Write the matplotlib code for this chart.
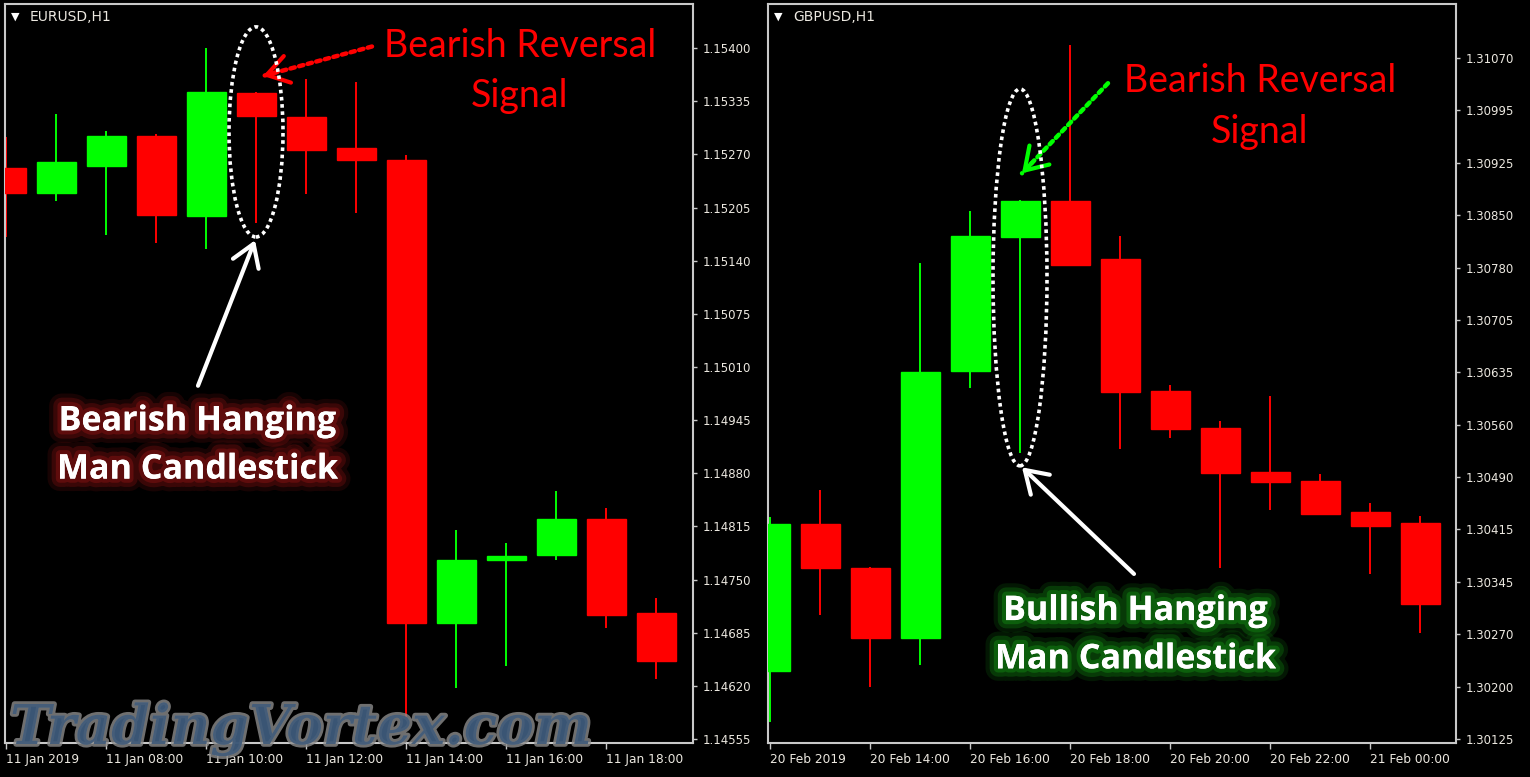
"""EURUSD / GBPUSD H1 candlesticks with hanging man annotations."""

import matplotlib.pyplot as plt
import matplotlib.patheffects as pe
from matplotlib.patches import Ellipse
import numpy as np

# EURUSD H1, 11 Jan 2019 06:00 .. 19:00
eur_open = [1.15253, 1.15223, 1.15256, 1.15292, 1.15195, 1.15345, 1.15316,
            1.15278, 1.15263, 1.14697, 1.14774, 1.14780, 1.14824, 1.14709]
eur_high = [1.15291, 1.15319, 1.15299, 1.15295, 1.15400, 1.15346, 1.15362,
            1.15358, 1.15269, 1.14811, 1.14795, 1.14858, 1.14837, 1.14727]
eur_low = [1.15169, 1.15213, 1.15171, 1.15162, 1.15154, 1.15186, 1.15221,
           1.15198, 1.14581, 1.14617, 1.14644, 1.14774, 1.14691, 1.14628]
eur_close = [1.15223, 1.15261, 1.15292, 1.15196, 1.15346, 1.15317, 1.15276,
             1.15263, 1.14697, 1.14774, 1.14779, 1.14824, 1.14707, 1.14650]
eur_ylim = (1.14550, 1.15454)
eur_yticks = [1.14555, 1.14620, 1.14685, 1.14750, 1.14815, 1.14880, 1.14945,
              1.15010, 1.15075, 1.15140, 1.15205, 1.15270, 1.15335, 1.15400]
eur_xlabels = ['11 Jan 2019', '11 Jan 08:00', '11 Jan 10:00', '11 Jan 12:00',
               '11 Jan 14:00', '11 Jan 16:00', '11 Jan 18:00']

# GBPUSD H1, 20 Feb 2019 12:00 .. 21 Feb 01:00
gbp_open = [1.30219, 1.30423, 1.30362, 1.30265, 1.30636, 1.30822, 1.30872,
            1.30791, 1.30608, 1.30557, 1.30496, 1.30483, 1.30440, 1.30425]
gbp_high = [1.30433, 1.30471, 1.30364, 1.30786, 1.30858, 1.30873, 1.31088,
            1.30823, 1.30616, 1.30566, 1.30601, 1.30493, 1.30452, 1.30434]
gbp_low = [1.30149, 1.30297, 1.30197, 1.30228, 1.30612, 1.30522, 1.30781,
           1.30527, 1.30543, 1.30362, 1.30443, 1.30436, 1.30354, 1.30272]
gbp_close = [1.30423, 1.30362, 1.30265, 1.30634, 1.30823, 1.30872, 1.30783,
             1.30607, 1.30555, 1.30494, 1.30482, 1.30437, 1.30421, 1.30312]
gbp_ylim = (1.301194, 1.311449)
gbp_ytick_labels = ['1.30125', '1.30200', '1.30270', '1.30345', '1.30415',
                    '1.30490', '1.30560', '1.30635', '1.30705', '1.30780',
                    '1.30850', '1.30925', '1.30995', '1.31070']
gbp_xlabels = ['20 Feb 2019', '20 Feb 14:00', '20 Feb 16:00', '20 Feb 18:00',
               '20 Feb 20:00', '20 Feb 22:00', '21 Feb 00:00']

BULL = '#00ff00'
BEAR = '#ff0000'
FRAME = '#c8c8c8'
LABEL = '#ece8e0'


def draw_candles(ax, o, h, l, c):
    o, h, l, c = map(np.asarray, (o, h, l, c))
    x = np.arange(len(o))
    col = np.where(c >= o, BULL, BEAR)
    ax.vlines(x, l, h, colors=col, linewidth=1.4, zorder=2)
    ax.bar(x, np.abs(c - o), bottom=np.minimum(o, c), width=0.78,
           color=col, edgecolor=col, linewidth=1, zorder=3)


def style_axes(ax, title, xlabels):
    ax.set_facecolor('black')
    for s in ax.spines.values():
        s.set_color(FRAME)
        s.set_linewidth(1.5)
    ax.yaxis.tick_right()
    ax.tick_params(axis='y', direction='out', length=3, pad=4, width=1,
                   color=FRAME, labelcolor=LABEL, labelsize=8.5)
    ax.tick_params(axis='x', direction='out', length=4, pad=3, width=1,
                   color=FRAME, labelcolor=LABEL, labelsize=8.8)
    ax.set_xticks(np.arange(0, 2 * len(xlabels), 2))
    ax.set_xticklabels(xlabels, ha='left')
    ax.annotate('\u25bc', xy=(0, 1), xycoords='axes fraction',
                xytext=(6, -13), textcoords='offset pixels',
                color='white', fontsize=8, ha='left', va='center')
    ax.annotate(title, xy=(0, 1), xycoords='axes fraction',
                xytext=(25, -13), textcoords='offset pixels',
                color=LABEL, fontsize=10, ha='left', va='center')


def glow(color):
    return [pe.withStroke(linewidth=18, foreground=color, alpha=0.25),
            pe.withStroke(linewidth=12, foreground=color, alpha=0.5),
            pe.withStroke(linewidth=6, foreground=color, alpha=1.0),
            pe.Normal()]


def dotted_arrow(ax, tail, tip, color):
    ax.annotate('', xy=tip, xytext=tail,
                arrowprops=dict(arrowstyle='-', color=color, lw=3.2,
                                linestyle=(0, (1, 1)), shrinkA=0, shrinkB=0))
    frac = 0.12
    mid = (tip[0] + (tail[0] - tip[0]) * frac, tip[1] + (tail[1] - tip[1]) * frac)
    ax.annotate('', xy=tip, xytext=mid,
                arrowprops=dict(arrowstyle='->,head_length=0.7,head_width=0.45',
                                color=color, lw=3, shrinkA=0, shrinkB=0,
                                mutation_scale=22))


def solid_arrow(ax, tail, tip):
    ax.annotate('', xy=tip, xytext=tail,
                arrowprops=dict(arrowstyle='->,head_length=0.7,head_width=0.45',
                                color='white', lw=3, shrinkA=0, shrinkB=0,
                                mutation_scale=22))


def hoop(ax, i, hi, lo, pad_top, pad_bot):
    top, bot = hi + pad_top, lo - pad_bot
    ax.add_patch(Ellipse((i, (top + bot) / 2), 1.08, top - bot, fill=False,
                         edgecolor='white', linewidth=2.6,
                         linestyle=(0, (1, 1)), zorder=5))


W, H = 1530, 777
fig = plt.figure(figsize=(W / 100, H / 100), dpi=100, facecolor='black')
ax1 = fig.add_axes([5 / W, (H - 743) / H, 688 / W, 739 / H])
ax2 = fig.add_axes([768 / W, (H - 743) / H, 688 / W, 739 / H])

# left: EURUSD
draw_candles(ax1, eur_open, eur_high, eur_low, eur_close)
style_axes(ax1, 'EURUSD,H1', eur_xlabels)
ax1.set_xlim(-0.02, 13.74)
ax1.set_ylim(*eur_ylim)
ax1.set_yticks(eur_yticks)
ax1.set_yticklabels([f'{v:.5f}' for v in eur_yticks])

k = 5
hoop(ax1, k, eur_high[k], eur_low[k], 0.00080, 0.00017)
dotted_arrow(ax1, (7.32, 1.15402), (5.14, 1.15366), BEAR)
ax1.text(10.28, 1.15372, 'Bearish Reversal\nSignal', color=BEAR,
         fontsize=27, family='Lato', ha='center', va='center', linespacing=1.5)
solid_arrow(ax1, (3.84, 1.14987), (4.98, 1.15165))
ax1.text(3.82, 1.14914, 'Bearish Hanging\nMan Candlestick', color='white',
         fontsize=24.5, family='Open Sans', weight='bold', ha='center', va='center',
         linespacing=1.55, path_effects=glow('#5e0c0c'), zorder=6)

# right: GBPUSD
draw_candles(ax2, gbp_open, gbp_high, gbp_low, gbp_close)
style_axes(ax2, 'GBPUSD,H1', gbp_xlabels)
ax2.set_xlim(-0.04, 13.72)
ax2.set_ylim(*gbp_ylim)
gbp_ticks = np.linspace(float(gbp_ytick_labels[0]), float(gbp_ytick_labels[-1]),
                        len(gbp_ytick_labels))
ax2.set_yticks(gbp_ticks)
ax2.set_yticklabels(gbp_ytick_labels)

hoop(ax2, k, gbp_high[k], gbp_low[k], 0.00154, 0.00018)
dotted_arrow(ax2, (6.76, 1.31035), (5.04, 1.30910), BULL)
ax2.text(9.8, 1.31003, 'Bearish Reversal\nSignal', color=BEAR,
         fontsize=27, family='Lato', ha='center', va='center', linespacing=1.5)
solid_arrow(ax2, (7.28, 1.30354), (5.04, 1.30502))
ax2.text(7.3, 1.30269, 'Bullish Hanging\nMan Candlestick', color='white',
         fontsize=24.5, family='Open Sans', weight='bold', ha='center', va='center',
         linespacing=1.55, path_effects=glow('#0c5e0c'), zorder=6)

# watermark
fig.text(10 / W, (H - 744) / H, 'TradingVortex.com', family='DejaVu Serif',
         weight='bold', style='italic', fontsize=39.5, color='#3c5878', alpha=0.85,
         ha='left', va='baseline', zorder=10,
         path_effects=[pe.withStroke(linewidth=4, foreground='#8c8c8c', alpha=0.8)])

fig.savefig('out.png', dpi=100, facecolor='black')
